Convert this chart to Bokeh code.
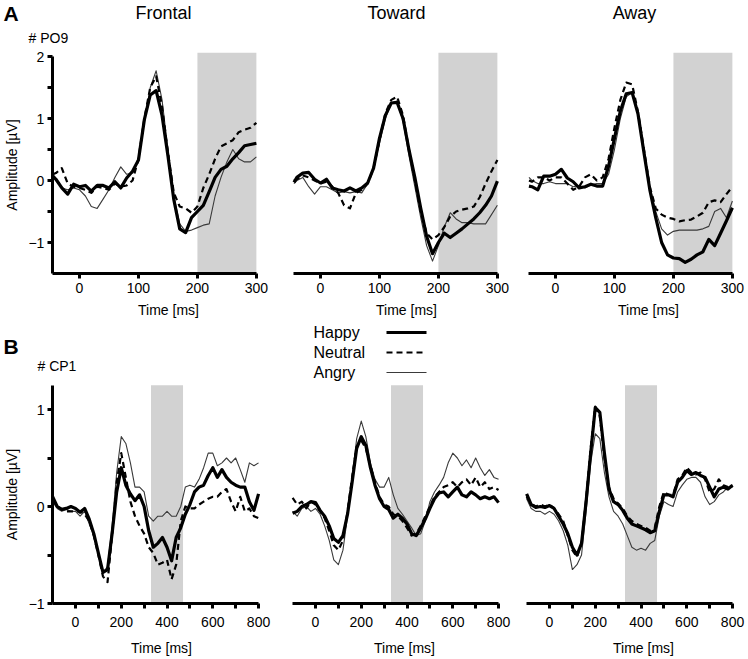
from bokeh.plotting import figure
from bokeh.layouts import column, row
from bokeh.models import Range1d, FixedTicker, BoxAnnotation, Label, Arrow
from bokeh.embed import file_html
from bokeh.resources import INLINE

FONT = "Liberation Sans"

# ---------------- data ----------------
view_names = ["Frontal", "Toward", "Away"]
condition_names = ["Happy", "Neutral", "Angry"]
electrode_a = "# PO9"
electrode_b = "# CP1"
x_title = "Time [ms]"
y_title = "Amplitude [µV]"

# analysis windows (ms)
window_a = [200, 300]
window_b = [330, 470]

# panel A: PO9, -45..300 ms
time_a = [-45, -40, -30, -20, -10, 0, 10, 20, 30, 40, 50, 60, 70, 80, 90, 100,
          110, 120, 130, 140, 150, 160, 170, 180, 190, 200, 210, 220, 230, 240,
          250, 260, 270, 280, 290, 300]

a_frontal_happy = [0.07, 0.02, -0.12, -0.22, -0.06, -0.1, -0.08, -0.17, -0.08, -0.08, -0.12, -0.02,
                   -0.12, 0.04, 0.15, 0.33, 0.98, 1.38, 1.45, 1.05, 0.4, -0.31, -0.78, -0.84,
                   -0.6, -0.5, -0.4, -0.18, 0.05, 0.18, 0.23, 0.35, 0.45, 0.56, 0.58, 0.6]
a_frontal_neutral = [0.1, 0.12, 0.2, -0.05, -0.1, -0.12, -0.15, -0.2, -0.1, -0.12, -0.15, -0.05,
                     -0.1, -0.08, 0.0, 0.35, 1.0, 1.5, 1.68, 1.2, 0.45, -0.2, -0.42, -0.45,
                     -0.52, -0.42, -0.12, 0.1, 0.35, 0.55, 0.6, 0.65, 0.78, 0.82, 0.85, 0.93]
a_frontal_angry = [0.05, 0.0, -0.12, -0.15, -0.12, -0.15, -0.25, -0.42, -0.45, -0.3, -0.15, 0.05,
                   0.22, 0.1, 0.12, 0.35, 0.95, 1.5, 1.77, 1.3, 0.5, -0.25, -0.7, -0.82,
                   -0.8, -0.76, -0.72, -0.7, -0.25, 0.05, 0.3, 0.5, 0.35, 0.3, 0.3, 0.38]

a_toward_happy = [-0.03, 0.05, 0.12, 0.13, 0.02, -0.04, 0.02, -0.12, -0.15, -0.17, -0.12, -0.17,
                  -0.12, -0.04, 0.2, 0.68, 1.05, 1.25, 1.26, 1.0, 0.5, 0.05, -0.45, -0.9,
                  -1.18, -1.0, -0.85, -0.92, -0.85, -0.78, -0.7, -0.62, -0.52, -0.4, -0.25, -0.01]
a_toward_neutral = [0.0, 0.02, 0.08, 0.05, 0.0, -0.05, -0.02, -0.1, -0.2, -0.4, -0.45, -0.2,
                    -0.15, -0.05, 0.2, 0.65, 1.08, 1.3, 1.35, 1.05, 0.5, 0.0, -0.5, -0.85,
                    -0.95, -0.88, -0.75, -0.58, -0.5, -0.47, -0.45, -0.42, -0.27, -0.05, 0.15, 0.33]
a_toward_angry = [-0.05, 0.0, 0.05, -0.1, -0.22, -0.1, -0.1, -0.15, -0.2, -0.18, -0.2, -0.18,
                  -0.2, -0.05, 0.2, 0.6, 1.0, 1.25, 1.28, 0.95, 0.4, -0.1, -0.6, -1.05,
                  -1.3, -1.05, -0.75, -0.52, -0.62, -0.68, -0.68, -0.7, -0.7, -0.7, -0.55, -0.4]

a_away_happy = [-0.09, -0.1, -0.15, 0.07, 0.07, 0.1, 0.18, 0.04, -0.02, -0.12, -0.1, -0.06,
                -0.09, -0.09, 0.23, 0.68, 1.12, 1.4, 1.42, 1.07, 0.45, -0.15, -0.6, -1.0,
                -1.2, -1.25, -1.26, -1.32, -1.27, -1.2, -1.15, -0.95, -1.05, -0.85, -0.65, -0.44]
a_away_neutral = [0.0, -0.02, 0.05, 0.05, 0.0, 0.05, 0.05, -0.05, -0.15, -0.1, 0.05, 0.1,
                  0.0, 0.05, 0.35, 0.85, 1.3, 1.58, 1.55, 1.1, 0.5, -0.1, -0.45, -0.55,
                  -0.6, -0.62, -0.66, -0.64, -0.63, -0.58, -0.52, -0.35, -0.32, -0.35, -0.22, -0.1]
a_away_angry = [0.05, 0.0, -0.05, -0.05, -0.02, -0.05, -0.05, -0.05, -0.1, -0.08, -0.12, -0.07,
                -0.05, -0.05, 0.1, 0.5, 1.0, 1.35, 1.42, 1.1, 0.5, -0.1, -0.5, -0.78,
                -0.88, -0.82, -0.8, -0.8, -0.8, -0.8, -0.78, -0.74, -0.5, -0.45, -0.6, -0.33]

# panel B: CP1, -100..800 ms
time_b = [-100, -80, -60, -40, -20, 0, 20, 40, 60, 80, 100, 120, 140, 160, 180, 200,
          220, 240, 260, 280, 300, 320, 340, 360, 380, 400, 420, 440, 460, 480, 500,
          520, 540, 560, 580, 600, 620, 640, 660, 680, 700, 720, 740, 760, 780, 800]

b_frontal_happy = [0.1, 0.0, -0.03, -0.02, 0.0, -0.02, -0.06, -0.02, -0.13, -0.28, -0.48, -0.68,
                   -0.65, -0.28, 0.15, 0.4, 0.22, 0.13, 0.06, 0.12, 0.0, -0.25, -0.42, -0.38,
                   -0.32, -0.42, -0.56, -0.32, -0.22, -0.08, 0.02, 0.15, 0.2, 0.22, 0.32, 0.4,
                   0.3, 0.38, 0.3, 0.25, 0.22, 0.2, 0.2, 0.05, -0.04, 0.13]
b_frontal_neutral = [0.08, 0.0, -0.03, -0.05, -0.05, -0.05, -0.05, -0.08, -0.15, -0.3, -0.5, -0.72,
                     -0.78, -0.3, 0.25, 0.55, 0.3, 0.05, -0.1, -0.2, -0.28, -0.42, -0.48, -0.6,
                     -0.58, -0.55, -0.75, -0.6, -0.15, 0.0, -0.02, -0.02, 0.02, 0.05, 0.08, 0.1,
                     0.1, 0.15, 0.18, 0.05, -0.05, 0.1, -0.05, -0.02, -0.1, -0.12]
b_frontal_angry = [0.05, -0.02, -0.05, -0.03, -0.05, -0.05, -0.1, -0.05, -0.18, -0.3, -0.5, -0.68,
                   -0.62, -0.2, 0.35, 0.72, 0.65, 0.45, 0.2, 0.2, 0.15, -0.1, -0.15, -0.1,
                   -0.1, -0.05, -0.1, -0.1, 0.0, 0.2, 0.22, 0.2, 0.28, 0.4, 0.55, 0.55,
                   0.42, 0.45, 0.5, 0.45, 0.5, 0.38, 0.25, 0.45, 0.42, 0.45]

b_toward_happy = [-0.07, -0.05, 0.0, 0.02, 0.05, 0.04, -0.04, -0.1, -0.2, -0.33, -0.37, -0.3,
                  -0.08, 0.25, 0.6, 0.72, 0.63, 0.4, 0.22, 0.08, 0.0, -0.03, -0.12, -0.08,
                  -0.12, -0.18, -0.28, -0.3, -0.22, -0.13, -0.02, 0.08, 0.14, 0.15, 0.1, 0.15,
                  0.2, 0.12, 0.1, 0.15, 0.12, 0.08, 0.1, 0.08, 0.1, 0.04]
b_toward_neutral = [0.09, 0.02, 0.05, -0.02, 0.05, 0.02, -0.05, -0.12, -0.25, -0.4, -0.45, -0.35,
                    -0.05, 0.3, 0.62, 0.68, 0.6, 0.42, 0.25, 0.1, 0.02, 0.0, -0.08, -0.1,
                    -0.15, -0.22, -0.3, -0.28, -0.2, -0.1, 0.0, 0.1, 0.15, 0.2, 0.22, 0.25,
                    0.2, 0.25, 0.28, 0.22, 0.3, 0.2, 0.25, 0.18, 0.2, 0.17]
b_toward_angry = [-0.05, -0.1, -0.02, 0.0, -0.05, -0.02, -0.08, -0.2, -0.35, -0.55, -0.6, -0.45,
                  -0.1, 0.3, 0.7, 0.88, 0.72, 0.45, 0.28, 0.2, 0.2, 0.3, 0.12, -0.02,
                  -0.08, -0.15, -0.22, -0.3, -0.28, -0.15, 0.05, 0.15, 0.22, 0.3, 0.45, 0.55,
                  0.5, 0.42, 0.48, 0.4, 0.5, 0.4, 0.32, 0.38, 0.3, 0.28]

b_away_happy = [0.13, 0.02, -0.01, 0.0, -0.01, 0.01, -0.02, -0.1, -0.18, -0.28, -0.42, -0.5,
                -0.38, 0.05, 0.55, 1.02, 0.97, 0.55, 0.18, 0.05, 0.02, -0.04, -0.12, -0.18,
                -0.2, -0.22, -0.24, -0.27, -0.25, -0.05, 0.12, 0.12, 0.1, 0.25, 0.3, 0.37,
                0.33, 0.35, 0.32, 0.3, 0.2, 0.1, 0.18, 0.2, 0.18, 0.22]
b_away_neutral = [0.1, 0.03, 0.0, 0.02, 0.0, 0.02, -0.02, -0.08, -0.15, -0.3, -0.45, -0.52,
                  -0.38, 0.08, 0.6, 1.03, 0.93, 0.5, 0.2, 0.08, 0.03, -0.02, -0.1, -0.15,
                  -0.18, -0.2, -0.22, -0.25, -0.22, 0.0, 0.15, 0.12, 0.12, 0.28, 0.32, 0.4,
                  0.35, 0.33, 0.35, 0.28, 0.15, 0.18, 0.28, 0.22, 0.2, 0.22]
b_away_angry = [0.08, -0.02, -0.05, -0.05, -0.08, -0.05, -0.08, -0.15, -0.25, -0.4, -0.65, -0.6,
                -0.5, -0.05, 0.45, 0.75, 0.7, 0.35, 0.1, -0.05, -0.1, -0.18, -0.3, -0.42,
                -0.45, -0.43, -0.45, -0.38, -0.35, -0.1, 0.05, 0.02, 0.0, 0.15, 0.22, 0.28,
                0.3, 0.3, 0.25, 0.1, 0.02, 0.05, 0.12, 0.15, 0.2, 0.2]

# axis ticks and extents
x_ticks_a = [0, 100, 200, 300]
y_ticks_a = [-1, 0, 1, 2]
y_minor_a = [-0.5, 0.5, 1.5]
x_bounds_a = (-46, 300)
y_bounds_a = (-1.5, 2.0)
shade_top_a = 2.06

x_ticks_b = [0, 200, 400, 600, 800]
x_minor_b = [100, 300, 500, 700]
y_ticks_b = [-1, 0, 1]
y_minor_b = [-0.5, 0.5]
x_bounds_b = (-100, 800)
y_bounds_b = (-1.0, 1.25)
shade_top_b = 1.25

# ---------------- styles ----------------
STYLE = {
    "Happy": dict(line_color="black", line_width=3.2, line_dash="solid"),
    "Neutral": dict(line_color="black", line_width=2.2, line_dash="6 4"),
    "Angry": dict(line_color="#3a3a3a", line_width=1.1, line_dash="solid"),
}
SHADE = "#d2d2d2"


def style_axis(ax, ticks, minor, label):
    ax.ticker = FixedTicker(ticks=ticks, minor_ticks=minor)
    ax.axis_line_width = 3
    ax.axis_line_color = "black"
    ax.major_tick_line_width = 3
    ax.minor_tick_line_width = 3
    ax.major_tick_line_color = "black"
    ax.minor_tick_line_color = "black"
    ax.major_tick_out = 5
    ax.major_tick_in = 0
    ax.minor_tick_out = 5
    ax.minor_tick_in = 0
    ax.major_label_text_font = FONT
    ax.major_label_text_font_size = "14px"
    ax.major_label_text_color = "black"
    ax.axis_label = label
    ax.axis_label_text_font = FONT
    ax.axis_label_text_font_size = "14px"
    ax.axis_label_text_font_style = "normal"
    ax.axis_label_text_color = "black"


def panel(left_px, top_px, width, height, axis_px, zero_px, px_per_ms, px_per_unit,
          series, times, window, shade_top, xt, xm, x_bounds, y_bounds,
          yt=None, ym=None, show_y=False, x_label_standoff=4):
    # the frame covers the whole canvas; axes sit at fixed data locations
    x0 = (left_px - zero_px) / px_per_ms
    x1 = (left_px + width - zero_px) / px_per_ms
    y0 = y_bounds[0] - (top_px + height - axis_px) / px_per_unit
    y1 = y_bounds[0] + (axis_px - top_px) / px_per_unit
    p = figure(width=width, height=height,
               x_range=Range1d(x0, x1), y_range=Range1d(y0, y1),
               output_backend="svg", toolbar_location=None,
               y_axis_location="left" if show_y else None,
               min_border_left=0, min_border_right=0,
               min_border_top=0, min_border_bottom=0)
    p.outline_line_color = None
    p.grid.visible = False
    p.background_fill_color = "white"
    p.border_fill_color = "white"
    p.tags = [left_px, top_px + height]

    p.add_layout(BoxAnnotation(left=window[0], right=window[1], bottom=y_bounds[0], top=shade_top,
                               fill_color=SHADE, fill_alpha=1.0, line_color=None, level="underlay"))

    for cond in ["Angry", "Neutral", "Happy"]:
        p.line(times, series[cond], line_join="round", **STYLE[cond])

    xa = p.xaxis[0]
    style_axis(xa, xt, xm, None)
    xa.fixed_location = y_bounds[0]
    xa.bounds = x_bounds
    xa.major_label_standoff = x_label_standoff
    if show_y:
        ya = p.yaxis[0]
        style_axis(ya, yt, ym, y_title)
        ya.fixed_location = x_bounds[0]
        ya.bounds = y_bounds
        ya.major_label_standoff = 3
        ya.axis_label_standoff = 6
    return p


def text(p, page_x, page_y, s, size="18px", style="normal", align="center"):
    left, bottom = p.tags
    p.add_layout(Label(x=page_x - left, y=bottom - page_y, x_units="screen", y_units="screen",
                       text=s, text_font=FONT, text_font_size=size, text_font_style=style,
                       text_align=align, text_baseline="middle", text_color="black"))


def legend_line(p, page_x0, page_x1, page_y, cond):
    left, bottom = p.tags
    st = STYLE[cond]
    p.add_layout(Arrow(start=None, end=None,
                       x_start=page_x0 - left, y_start=bottom - page_y,
                       x_end=page_x1 - left, y_end=bottom - page_y,
                       start_units="screen", end_units="screen",
                       line_color=st["line_color"], line_width=st["line_width"],
                       line_dash=st["line_dash"]))


# ---------------- row A ----------------
PPM_A, PPU_A = 0.5896, 62.0
H_A, AXIS_A = 320, 273
a_series = [
    {"Happy": a_frontal_happy, "Neutral": a_frontal_neutral, "Angry": a_frontal_angry},
    {"Happy": a_toward_happy, "Neutral": a_toward_neutral, "Angry": a_toward_angry},
    {"Happy": a_away_happy, "Neutral": a_away_neutral, "Angry": a_away_angry},
]
a1 = panel(0, 0, 274, H_A, AXIS_A, 79, PPM_A, PPU_A, a_series[0], time_a, window_a, shade_top_a,
           x_ticks_a, [], x_bounds_a, y_bounds_a, y_ticks_a, y_minor_a, show_y=True)
a2 = panel(274, 0, 237, H_A, AXIS_A, 320, PPM_A, PPU_A, a_series[1], time_a, window_a, shade_top_a,
           x_ticks_a, [], x_bounds_a, y_bounds_a)
a3 = panel(511, 0, 237, H_A, AXIS_A, 555, PPM_A, PPU_A, a_series[2], time_a, window_a, shade_top_a,
           x_ticks_a, [], x_bounds_a, y_bounds_a)

text(a1, 163, 12, view_names[0])
text(a2, 396, 12, view_names[1])
text(a3, 634, 12, view_names[2])
text(a1, 3, 13, "A", size="21px", style="bold", align="left")
text(a1, 28, 37, electrode_a, size="14px", align="left")
text(a1, 168, 309, x_title, size="14px")
text(a2, 406, 309, x_title, size="14px")
text(a3, 648, 309, x_title, size="14px")

# ---------------- row B ----------------
PPM_B, PPU_B = 0.2288, 97.0
TOP_B = H_A
H_B, AXIS_B = 659 - H_A, 603
b_series = [
    {"Happy": b_frontal_happy, "Neutral": b_frontal_neutral, "Angry": b_frontal_angry},
    {"Happy": b_toward_happy, "Neutral": b_toward_neutral, "Angry": b_toward_angry},
    {"Happy": b_away_happy, "Neutral": b_away_neutral, "Angry": b_away_angry},
]
b1 = panel(0, TOP_B, 276, H_B, AXIS_B, 75, PPM_B, PPU_B, b_series[0], time_b, window_b, shade_top_b,
           x_ticks_b, x_minor_b, x_bounds_b, y_bounds_b, y_ticks_b, y_minor_b, show_y=True,
           x_label_standoff=8)
b2 = panel(276, TOP_B, 237, H_B, AXIS_B, 315, PPM_B, PPU_B, b_series[1], time_b, window_b, shade_top_b,
           x_ticks_b, x_minor_b, x_bounds_b, y_bounds_b, x_label_standoff=8)
b3 = panel(513, TOP_B, 235, H_B, AXIS_B, 549, PPM_B, PPU_B, b_series[2], time_b, window_b, shade_top_b,
           x_ticks_b, x_minor_b, x_bounds_b, y_bounds_b, x_label_standoff=8)

text(b1, 3, 346, "B", size="21px", style="bold", align="left")
text(b1, 37, 365, electrode_b, size="14px", align="left")
text(b1, 161, 647, x_title, size="14px")
text(b2, 404, 647, x_title, size="14px")
text(b3, 643, 647, x_title, size="14px")

for i, cond in enumerate(condition_names):
    yy = 332 + 20 * i
    text(b2, 313, yy, cond, size="16px", align="left")
    legend_line(b2, 386, 426, yy, cond)

layout = column(row(a1, a2, a3), row(b1, b2, b3))
open("out.html", "w").write(file_html(layout, INLINE))
